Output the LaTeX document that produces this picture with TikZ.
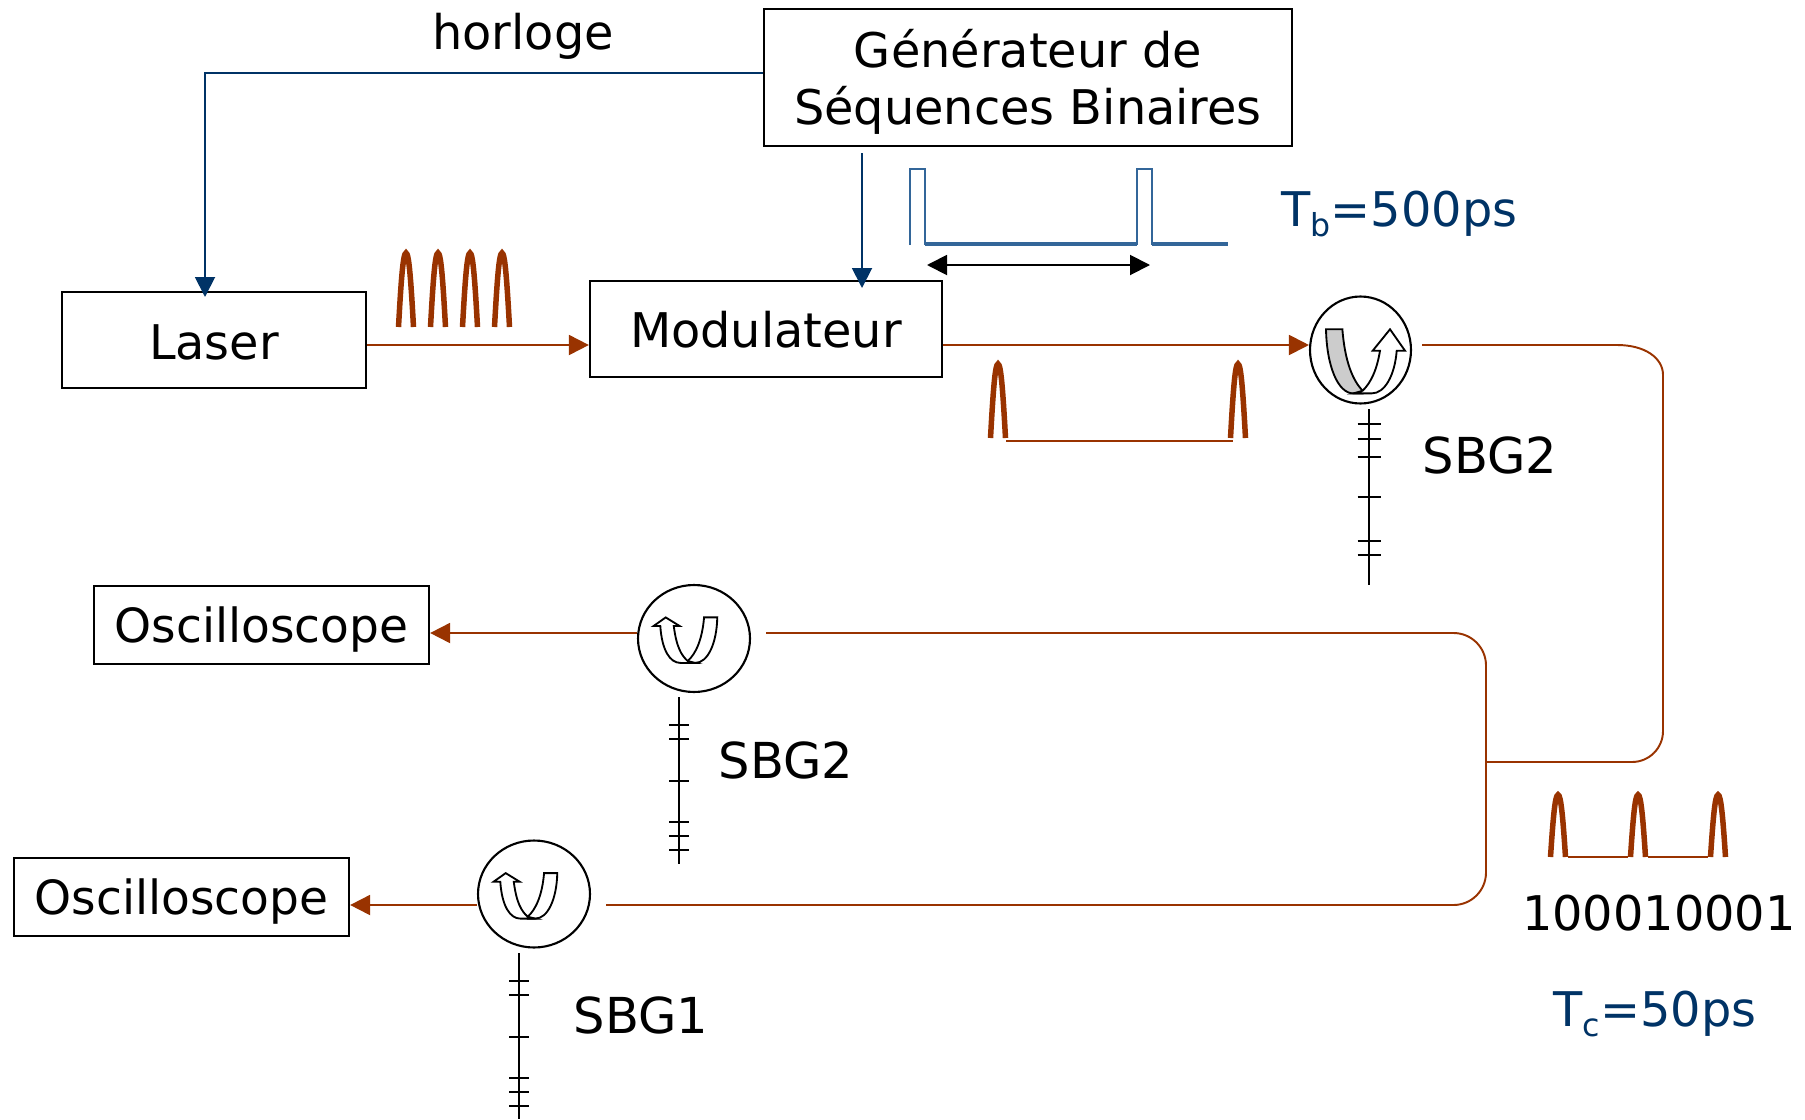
\documentclass[tikz,border=0pt]{standalone}
\usepackage{fontspec}
\setmainfont{DejaVu Sans}
\usetikzlibrary{arrows.meta,shapes.geometric}
\definecolor{fibre}{HTML}{993300}
\definecolor{clock}{HTML}{003366}
\definecolor{signal}{HTML}{336699}
\newcommand{\couplerpath}[2]{
    \draw[line width=1.05pt,fill=#1] (-36.7,-61.4) .. controls (-36,-25) and (-25,2.7) .. (-9.3,2.7) -- (0,2.7) -- (0,0) .. controls (-10,-10) and (-18,-30) .. (-20.3,-61.4) -- cycle;
    \draw[line width=1.05pt,fill=white] (-9.3,2.7) -- (9,2.7) .. controls (22,2.7) and (32,-15) .. (34,#2) -- (42.3,#2) -- (27.3,-61.4) -- (10,#2) -- (17.3,#2) .. controls (14,-20) and (8,-8) .. (0,0) -- cycle;
}
\tikzset{
    boxnode/.style={draw,line width=1.3pt,inner sep=0pt,align=center},
    circnode/.style={draw,ellipse,line width=1.2pt,inner sep=0pt},
    txt/.style={inner sep=0pt,font=\fontsize{27.2}{32.6}\selectfont},
    scopetxt/.style={inner sep=0pt,font=\fontsize{26.8}{32.6}\selectfont},
    sbgtxt/.style={inner sep=0pt,font=\fontsize{28.2}{32.6}\selectfont},
    fibreline/.style={fibre,line width=1.1pt},
    fibretip/.style={-{Triangle[length=0.4cm,width=0.4cm]}},
    clockline/.style={clock,line width=1.1pt,-{Triangle[length=0.4cm,width=0.4cm]}},
    sbgline/.style={line width=1.1pt},
    pulse/.pic={\draw[fibre,line width=0.11cm] (-7.5,0) .. controls (-5,-45) and (-3,-74) .. (0,-74) .. controls (3,-74) and (5,-45) .. (7.5,0);},
    bigcoupler/.pic={\couplerpath{black!20}{-40}},
    smallcoupler/.pic={\couplerpath{white}{-49.3}}
}
\begin{document}
\begin{tikzpicture}[x=0.02cm,y=-0.02cm]
    \useasboundingbox (0,0) rectangle (1805,1119);
    % Boxes
    \node[boxnode,txt,minimum width=10.56cm,minimum height=2.74cm] (generateur) at (1028,77.5) {\rule{0pt}{26.5pt}Générateur de\\Séquences Binaires};
    \node[boxnode,txt,minimum width=6.08cm,minimum height=1.92cm,text height=22.4pt] (laser) at (214,340) {Laser};
    \node[boxnode,txt,minimum width=7.04cm,minimum height=1.92cm,text height=22pt] (modulateur) at (766,329) {Modulateur};
    \node[boxnode,scopetxt,minimum width=6.7cm,minimum height=1.56cm,text height=25.6pt,text depth=5.6pt] (oscilloB) at (261.5,625) {Oscilloscope};
    \node[boxnode,scopetxt,minimum width=6.7cm,minimum height=1.56cm,text height=25.6pt,text depth=5.6pt] (oscilloA) at (181.5,897) {Oscilloscope};
    % Circulators
    \node[circnode,minimum width=2.02cm,minimum height=2.14cm] (circC) at (1360.5,350) {};
    \node[circnode,minimum width=2.24cm,minimum height=2.14cm] (circB) at (694,638.5) {};
    \node[circnode,minimum width=2.24cm,minimum height=2.14cm] (circA) at (534,894) {};
    \pic at (1362.7,390.7) {bigcoupler};
    \pic[xscale=-0.806,yscale=0.71] at (687.7,661) {smallcoupler};
    \pic[xscale=-0.806,yscale=0.71] at (527.7,916.7) {smallcoupler};
    % Fibre levels and free ends
    \coordinate (levelC) at (0,345);
    \coordinate (levelB) at (0,633);
    \coordinate (levelA) at (0,905);
    \coordinate (outC) at (1422,345);
    \coordinate (outB) at (766,633);
    \coordinate (outA) at (606,905);
    \coordinate (coupleur) at (1486,762);
    % Fibres
    \draw[fibreline,fibretip] (laser.east |- levelC) -- (modulateur.west |- levelC);
    \draw[fibreline,fibretip] (modulateur.east |- levelC) -- (circC.west |- levelC);
    \draw[fibreline] (outC) -- (1617,345) .. controls (1645,345) and (1663,358) .. (1663,375) [rounded corners=0.62cm] -- (1663,762) -- (coupleur);
    \draw[fibreline,rounded corners=0.65cm] (outB) -- (1486,633) -- (1486,905) -- (outA);
    \draw[fibreline,fibretip] (circB.west |- levelB) -- (oscilloB.east |- levelB);
    \draw[fibreline,fibretip] (circA.west |- levelA) -- (oscilloA.east |- levelA);
    % Clock and data
    \coordinate (clockout) at (862,153);
    \draw[clockline] (generateur.west |- 0,73) -- (205,73) -- (205,297);
    \draw[clockline] (clockout) -- (862,288);
    % Electrical signal
    \draw[signal,line width=0.9pt] (910,245) -- (910,169) -- (925,169) -- (925,245);
    \draw[signal,line width=0.9pt] (1137,245) -- (1137,169) -- (1152,169) -- (1152,245);
    \draw[signal,line width=2.8pt] (925,244) -- (1137,244);
    \draw[signal,line width=2.8pt] (1152,244) -- (1228,244);
    \coordinate (periodL) at (927,265);
    \coordinate (periodR) at (1150,265);
    \draw[line width=1.1pt,{Triangle[length=0.4cm,width=0.4cm]}-{Triangle[length=0.4cm,width=0.4cm]}] (periodL) -- (periodR);
    % Optical pulses
    \foreach \x in {406,438,470,502}
        \pic at (\x,327) {pulse};
    \foreach \x in {998,1238}
        \pic at (\x,438) {pulse};
    \draw[fibre,line width=1.7pt] (1006,441) -- (1233,441);
    \foreach \x in {1558,1638,1718}
        \pic[yscale=0.84] at (\x,857) {pulse};
    \draw[fibre,line width=1.3pt] (1568,857) -- (1628,857);
    \draw[fibre,line width=1.3pt] (1648,857) -- (1708,857);
    % Gratings
    \draw[sbgline] (1369,409) -- (1369,585);
    \foreach \y in {424,439,457,497,541,555}
        \draw[sbgline] (1357.5,\y) -- (1380.5,\y);
    \draw[sbgline] (679,697) -- (679,864);
    \foreach \y in {725,739,781,822,836,850}
        \draw[sbgline] (669,\y) -- (689,\y);
    \draw[sbgline] (519,953) -- (519,1119);
    \foreach \y in {981,995,1037,1078,1092,1106}
        \draw[sbgline] (509,\y) -- (529,\y);
    % Labels
    \node[txt] (horloge) at (523,36.5) {horloge};
    \node[sbgtxt] (sbgC) at (1490,455) {SBG2};
    \node[sbgtxt] (sbgB) at (786,760) {SBG2};
    \node[sbgtxt] (sbgA) at (641,1015) {SBG1};
    \node[txt] (sequence) at (1659,913) {100010001};
    \node[txt,text=clock] (tb) at (1399.5,214) {T\raisebox{-5.5pt}{\fontsize{18}{18}\selectfont b}=500ps};
    \node[txt,text=clock] (tc) at (1655,1014) {T\raisebox{-5.5pt}{\fontsize{18}{18}\selectfont c}=50ps};
\end{tikzpicture}
\end{document}
